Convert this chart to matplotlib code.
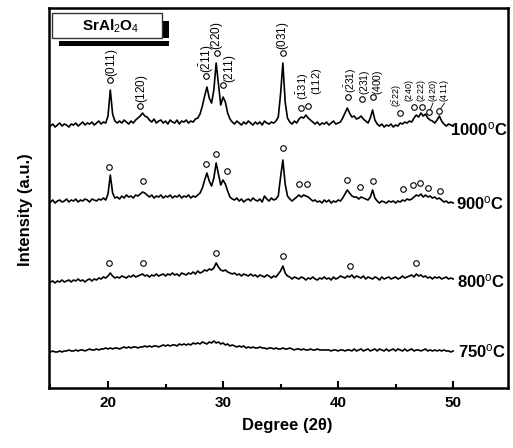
import numpy as np
import matplotlib.pyplot as plt
import matplotlib.patches as patches
from matplotlib.ticker import MultipleLocator

plt.rcParams['font.family'] = 'Liberation Sans'
plt.rcParams['mathtext.fontset'] = 'custom'
plt.rcParams['mathtext.rm'] = 'Liberation Sans'
plt.rcParams['mathtext.it'] = 'Liberation Sans:italic'
plt.rcParams['mathtext.bf'] = 'Liberation Sans:bold'

# 2-theta grid, 0.2 deg steps from 15 to 50
two_theta = np.round(np.arange(15.0, 50.01, 0.2), 1)

# intensities (a.u.), one row per 2 degrees
i_1000 = [
    0, 2, -1, 1, 3, 0, 2, 1, -1, 2,
    1, 3, 0, 2, 4, 1, 3, 2, 4, 1,
    3, 5, 2, 4, 3, 10, 36, 12, 5, 3,
    5, 3, 6, 4, 2, 5, 3, 6, 8, 10,
    13, 10, 9, 6, 4, 7, 3, 5, 6, 3,
    5, 2, 6, 4, 3, 6, 2, 5, 4, 6,
    3, 5, 4, 7, 8, 12, 20, 30, 39, 28,
    23, 36, 63, 42, 21, 29, 24, 13, 7, 4,
    2, 5, 3, 1, 4, 2, 5, 3, 1, 4,
    2, 4, 1, 5, 3, 2, 4, 3, 5, 9,
    32, 63, 24, 8, 4, 2, 5, 3, 7, 9,
    8, 11, 8, 6, 4, 2, 4, 1, 3, 2,
    4, 1, 3, 5, 2, 3, 4, 8, 13, 18,
    13, 9, 10, 7, 8, 10, 7, 5, 3, 8,
    16, 6, 2, 0, 2, -1, 1, 0, 2, -1,
    1, 0, 3, 2, 4, 3, 5, 4, 8, 11,
    9, 13, 10, 12, 8, 6, 5, 3, 6, 10,
    5, 2, 0, 2, 1, 0,
]
i_900 = [
    0, 2, -1, 1, 2, 0, 1, 3, 0, 2,
    1, 3, 0, 2, 1, 3, 2, 0, 3, 2,
    1, 3, 2, 4, 2, 8, 27, 9, 4, 5,
    3, 6, 4, 7, 5, 6, 4, 7, 6, 8,
    10, 9, 7, 5, 7, 4, 6, 5, 7, 4,
    6, 5, 7, 4, 6, 5, 7, 4, 6, 5,
    7, 4, 6, 5, 7, 9, 14, 22, 29, 21,
    16, 24, 39, 28, 17, 22, 18, 11, 5, 3,
    2, 4, 1, 3, 0, 2, 3, 1, 4, 2,
    1, 3, 0, 6, 3, 1, 4, 2, 3, 6,
    25, 42, 18, 6, 3, 1, 3, 5, 7, 5,
    7, 6, 5, 3, 1, 2, 0, 1, -1, 2,
    0, 2, -1, 1, 0, 2, 1, 4, 8, 12,
    9, 6, 5, 5, 3, 5, 4, 3, 2, 5,
    12, 4, 1, -1, 1, 0, -1, 1, 0, 1,
    -1, 1, 0, 2, 1, 3, 2, 3, 5, 7,
    6, 8, 5, 7, 5, 6, 4, 5, 3, 4,
    2, 0, 1, -1, 0, -1,
]
i_800 = [
    0, 1, -1, 1, 0, 2, 0, 1, 2, 0,
    2, 1, 3, 1, 2, 0, 2, 3, 1, 3,
    2, 4, 3, 5, 4, 6, 9, 6, 4, 5,
    4, 6, 5, 4, 6, 5, 7, 5, 6, 7,
    8, 6, 7, 5, 7, 6, 8, 6, 7, 8,
    6, 8, 7, 9, 7, 8, 6, 9, 8, 7,
    9, 8, 10, 8, 11, 9, 10, 12, 11, 13,
    12, 14, 19, 15, 12, 11, 12, 10, 9, 8,
    9, 7, 8, 6, 8, 7, 6, 8, 6, 7,
    5, 7, 6, 5, 7, 6, 4, 6, 5, 8,
    11, 16, 9, 6, 5, 3, 5, 4, 3, 5,
    4, 2, 4, 3, 5, 3, 2, 4, 3, 5,
    3, 4, 2, 5, 3, 4, 6, 5, 4, 6,
    5, 7, 4, 6, 5, 4, 6, 3, 5, 4,
    3, 5, 4, 2, 5, 3, 4, 5, 3, 4,
    5, 3, 4, 6, 4, 5, 6, 7, 5, 8,
    6, 7, 5, 6, 4, 5, 3, 5, 4, 5,
    3, 4, 5, 3, 4, 3,
]
i_750 = [
    0, 1, 0, 0, 1, 0, 1, 1, 2, 1,
    1, 2, 1, 2, 2, 1, 2, 3, 2, 2,
    3, 2, 3, 3, 4, 3, 4, 3, 4, 4,
    3, 4, 5, 4, 5, 4, 5, 5, 4, 5,
    5, 6, 5, 6, 5, 6, 6, 5, 6, 7,
    6, 7, 6, 7, 7, 6, 8, 7, 8, 7,
    8, 7, 9, 8, 9, 8, 10, 9, 8, 10,
    9, 11, 9, 10, 8, 9, 7, 8, 6, 7,
    6, 5, 6, 5, 6, 4, 5, 4, 5, 4,
    4, 5, 4, 4, 3, 4, 4, 3, 4, 3,
    3, 4, 3, 3, 4, 3, 2, 3, 3, 2,
    3, 2, 2, 3, 2, 2, 3, 2, 2, 2,
    2, 2, 1, 2, 2, 1, 2, 2, 1, 2,
    2, 1, 3, 1, 2, 3, 1, 2, 3, 1,
    2, 3, 1, 3, 2, 1, 3, 1, 2, 3,
    1, 3, 2, 1, 3, 1, 2, 3, 1, 2,
    2, 1, 2, 3, 1, 2, 1, 2, 1, 2,
    1, 2, 1, 1, 0, 1,
]

temps = ['1000', '900', '800', '750']
patterns = [i_1000, i_900, i_800, i_750]
offsets = [262, 186, 106, 36]

# SrAl2O4 reflections (2-theta, marker height above each trace)
mk_1000_x = [20.2, 22.8, 28.5, 29.5, 30.0, 35.2, 36.8, 37.4, 40.9, 42.1,
             43.0, 45.4, 46.6, 47.3, 47.9, 48.8]
mk_1000_y = [46, 20, 50, 73, 41, 73, 18, 20, 29, 27, 29, 13, 19, 19, 14, 15]
mk_900_x = [20.1, 23.0, 28.5, 29.4, 30.3, 35.2, 36.6, 37.3, 40.8, 41.9,
            43.0, 45.6, 46.5, 47.1, 47.8, 48.9]
mk_900_y = [35, 21, 38, 48, 31, 54, 18, 18, 22, 15, 21, 13, 17, 19, 14, 11]
mk_800_x = [20.1, 23.0, 29.4, 35.2, 41.0, 46.8]
mk_800_y = [19, 19, 29, 26, 16, 19]

hkl = [r'$(011)$', r'$(120)$', r'$(\bar{2}11)$', r'$(220)$', r'$(211)$',
       r'$(031)$', r'$(\bar{1}31)$', r'$(112)$', r'$(\bar{2}31)$', r'$(231)$',
       r'$(400)$', r'$(\bar{2}22)$', r'$(240)$', r'$(222)$', r'$(420)$',
       r'$(411)$']
hkl_x = [20.35, 22.95, 28.6, 29.5, 30.6, 35.2, 36.95, 38.2, 41.1, 42.3,
         43.45, 45.15, 46.25, 47.25, 48.25, 49.25]
hkl_y = [49, 23, 53, 76, 43, 76, 26, 31, 33, 31, 31, 19, 24, 24, 24, 24]
hkl_size = [8.5, 8.5, 8.5, 8.5, 8.5, 8.5, 8, 8, 7.5, 7.5,
            7.5, 6.5, 6.5, 6.5, 6.5, 6.5]

temp_x = [49.74, 50.26, 50.35, 50.43]
temp_dy = [-9, -7, -5, -5]

fig = plt.figure(figsize=(5.13, 4.48), dpi=100)
ax = fig.add_axes([0.0955, 0.134, 0.895, 0.848])

for t, inten, off, tx, dy in zip(temps, patterns, offsets, temp_x, temp_dy):
    ax.plot(two_theta, np.array(inten) + off, color='black', lw=1.2)
    ax.text(tx, off + dy, t + r'$^{\mathrm{o}}$C', fontsize=12,
            fontweight='bold', ha='left', va='baseline')

marker_kw = dict(ls='none', marker='o', ms=4, mfc='white', mec='black',
                 mew=0.8, zorder=3)
ax.plot(mk_1000_x, np.array(mk_1000_y) + offsets[0], **marker_kw)
ax.plot(mk_900_x, np.array(mk_900_y) + offsets[1], **marker_kw)
ax.plot(mk_800_x, np.array(mk_800_y) + offsets[2], **marker_kw)

for lab, lx, ly, fs in zip(hkl, hkl_x, hkl_y, hkl_size):
    ax.text(lx, ly + offsets[0], lab, rotation=90, fontsize=fs,
            ha='center', va='bottom')

# leader lines for the crowded (420) and (411) labels
ax.plot([48.0, 48.25], [offsets[0] + 16, offsets[0] + 23], color='black', lw=0.6)
ax.plot([48.9, 49.25], [offsets[0] + 17, offsets[0] + 23], color='black', lw=0.6)

# phase legend box with drop shadow
ax.add_patch(patches.Rectangle((0.0218, 0.900), 0.239, 0.013, transform=ax.transAxes,
                               facecolor='black', edgecolor='none', clip_on=False))
ax.add_patch(patches.Rectangle((0.248, 0.921), 0.013, 0.045, transform=ax.transAxes,
                               facecolor='black', edgecolor='none', clip_on=False))
ax.add_patch(patches.Rectangle((0.0065, 0.921), 0.2395, 0.066, transform=ax.transAxes,
                               facecolor='white', edgecolor='#333333', lw=1.0,
                               clip_on=False))
ax.text(0.135, 0.951, r'SrAl$_2$O$_4$', transform=ax.transAxes, fontsize=11,
        fontweight='bold', ha='center', va='center')

ax.set_xlim(14.87, 54.78)
ax.set_ylim(0, 380)
ax.xaxis.set_major_locator(MultipleLocator(10))
ax.xaxis.set_minor_locator(MultipleLocator(5))
ax.tick_params(axis='x', which='major', direction='in', length=5, width=1.5,
               labelsize=11, pad=6, top=False)
ax.tick_params(axis='x', which='minor', direction='in', length=3, width=1.5,
               top=False)
ax.set_yticks([])
for lab in ax.get_xticklabels():
    lab.set_fontweight('bold')
for sp in ax.spines.values():
    sp.set_linewidth(1.8)

ax.set_xlabel('Degree (2θ)', fontsize=12, fontweight='bold')
ax.set_ylabel('Intensity (a.u.)', fontsize=12, fontweight='bold')
ax.xaxis.set_label_coords(0.518, -0.078)
ax.yaxis.set_label_coords(-0.035, 0.47)

fig.savefig('out.png', dpi=100)
